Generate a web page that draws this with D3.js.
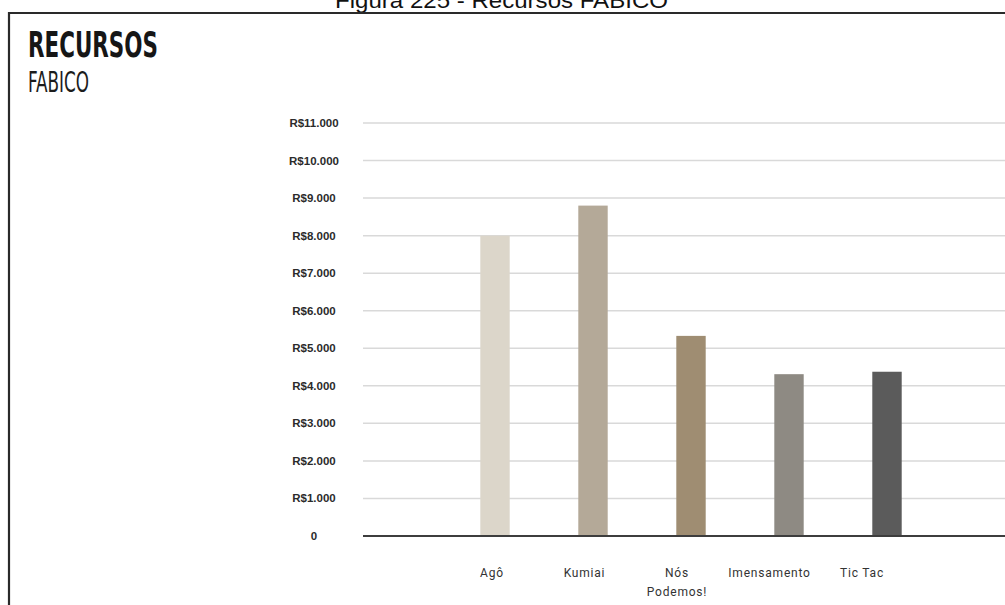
<!DOCTYPE html>
<html>
<head>
<meta charset="utf-8">
<script src="https://cdn.jsdelivr.net/npm/d3@7"></script>
<style>
  body { margin: 0; background: #fff; }
  svg { display: block; }
</style>
</head>
<body>
<div id="grafico"></div>
<script>
// dados
var projetos = ["Agô", "Kumiai", "Nós Podemos!", "Imensamento", "Tic Tac"];
var valores = [8000, 8800, 5330, 4310, 4375];
var cores = ["#dcd6ca", "#b4a998", "#9f8d72", "#8e8a83", "#5b5b5b"];
var ticks = [0, 1000, 2000, 3000, 4000, 5000, 6000, 7000, 8000, 9000, 10000, 11000];
var rotulosY = ["0", "R$1.000", "R$2.000", "R$3.000", "R$4.000", "R$5.000", "R$6.000",
                "R$7.000", "R$8.000", "R$9.000", "R$10.000", "R$11.000"];

var W = 1005, H = 605;

var svg = d3.select("#grafico").append("svg")
    .attr("width", W)
    .attr("height", H);

// legenda da figura (cortada no topo, como no original)
svg.append("text")
    .attr("x", 335).attr("y", 8)
    .attr("textLength", 333).attr("lengthAdjust", "spacingAndGlyphs")
    .style("font-family", "Liberation Sans, Arial, sans-serif")
    .style("font-size", "22px")
    .style("fill", "#111")
    .text("Figura 225 - Recursos FABICO");

// moldura
svg.append("path")
    .attr("d", "M9,605 V13 H1005")
    .attr("fill", "none")
    .attr("stroke", "#2a2a2a")
    .attr("stroke-width", 2.2);

// titulos
svg.append("text")
    .attr("x", 28).attr("y", 57)
    .attr("textLength", 130).attr("lengthAdjust", "spacingAndGlyphs")
    .style("font-family", "DejaVu Sans Condensed, DejaVu Sans, sans-serif")
    .style("font-weight", "bold")
    .style("font-size", "36px")
    .style("fill", "#161616")
    .text("RECURSOS");

svg.append("text")
    .attr("x", 28).attr("y", 92)
    .attr("textLength", 61).attr("lengthAdjust", "spacingAndGlyphs")
    .style("font-family", "DejaVu Sans Condensed, DejaVu Sans, sans-serif")
    .style("font-size", "29px")
    .style("fill", "#1c1c1c")
    .text("FABICO");

var y = d3.scaleLinear()
    .domain([0, 11000])
    .range([536, 123]);

var x = d3.scaleBand()
    .domain(projetos)
    .range([446, 936])
    .paddingInner(0.70)
    .paddingOuter(0.35);

// os rotulos do original ficam um pouco deslocados das barras
var xRot = d3.scalePoint()
    .domain(projetos)
    .range([492, 862]);

// linhas de grade
svg.append("g").selectAll("line")
    .data(ticks.slice(1))
    .enter().append("line")
      .attr("x1", 363).attr("x2", W)
      .attr("y1", function(d){ return y(d); })
      .attr("y2", function(d){ return y(d); })
      .attr("stroke", "#d9d9d9")
      .attr("stroke-width", 1.5);

// rotulos do eixo Y
svg.append("g").selectAll("text")
    .data(ticks)
    .enter().append("text")
      .attr("x", 314)
      .attr("y", function(d){ return y(d); })
      .attr("dy", "0.35em")
      .attr("text-anchor", "middle")
      .style("font-family", "Liberation Sans, Arial, sans-serif")
      .style("font-weight", "bold")
      .style("font-size", "11.5px")
      .style("fill", "#2b2b2b")
      .text(function(d, i){ return rotulosY[i]; });

// barras
svg.append("g").selectAll("rect")
    .data(projetos)
    .enter().append("rect")
      .attr("x", function(d){ return x(d); })
      .attr("width", x.bandwidth())
      .attr("y", function(d, i){ return y(valores[i]); })
      .attr("height", function(d, i){ return y(0) - y(valores[i]); })
      .attr("fill", function(d, i){ return cores[i]; });

// linha base
svg.append("line")
    .attr("x1", 363).attr("x2", W)
    .attr("y1", y(0)).attr("y2", y(0))
    .attr("stroke", "#3d3d3d")
    .attr("stroke-width", 2);

// rotulos do eixo X (quebra em duas linhas se preciso)
var rotX = svg.append("g").selectAll("text")
    .data(projetos)
    .enter().append("text")
      .attr("x", function(d){ return xRot(d); })
      .attr("y", 577)
      .attr("text-anchor", "middle")
      .style("font-family", "Roboto, Liberation Sans, sans-serif")
      .style("font-size", "12px")
      .style("letter-spacing", "0.8px")
      .style("fill", "#333");

rotX.each(function(d){
    var partes = d == "Nós Podemos!" ? ["Nós", "Podemos!"] : [d];
    var t = d3.select(this);
    var cx = t.attr("x");
    partes.forEach(function(p, k){
        t.append("tspan").attr("x", cx).attr("dy", k == 0 ? 0 : "1.6em").text(p);
    });
});
</script>
</body>
</html>
